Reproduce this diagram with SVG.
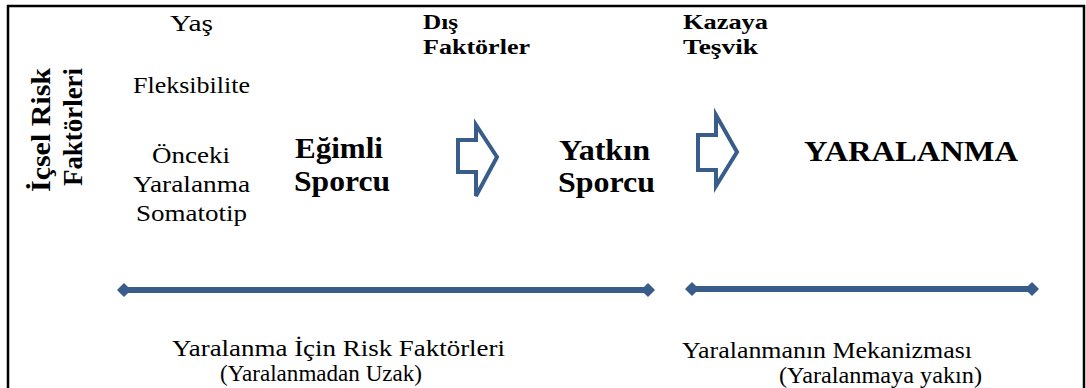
<svg xmlns="http://www.w3.org/2000/svg" width="1086" height="388" viewBox="0 0 1086 388">
<style>
text{font-family:"Liberation Serif","Times New Roman",serif;fill:#000}
.r{font-size:24px}
.q{font-size:23px}
.b{font-weight:bold}
.s{font-size:22px}
.l{font-size:29px}
.v{font-size:27px}
.blk{fill:#fff;stroke:#385D8A;stroke-width:4;stroke-linejoin:miter}
.dl{stroke:#385D8A;stroke-width:6;fill:none}
</style>
<defs>
<marker id="dia" viewBox="-7 -7 14 14" markerWidth="14" markerHeight="14" refX="0" refY="0" markerUnits="userSpaceOnUse" orient="auto">
<path d="M-6,0 L0,-6 L6,0 L0,6 Z" fill="#385D8A" stroke="#385D8A" stroke-width="1.5" stroke-linejoin="round"/>
</marker>
</defs>
<rect width="1086" height="388" fill="#fff"/>
<path d="M8,388 V6 H1084 V388" fill="none" stroke="#000" stroke-width="2.5"/>

<g id="icsel">
<text class="b v" transform="translate(50,192) rotate(-90)" textLength="124" lengthAdjust="spacingAndGlyphs">İçsel Risk</text>
<text class="b v" transform="translate(82,186) rotate(-90)" textLength="118" lengthAdjust="spacingAndGlyphs">Faktörleri</text>
</g>
<g id="factors">
<text class="r" x="170" y="31" textLength="43" lengthAdjust="spacingAndGlyphs">Yaş</text>
<text class="r" x="133" y="93" textLength="117" lengthAdjust="spacingAndGlyphs">Fleksibilite</text>
<text class="r" x="152" y="163" textLength="78" lengthAdjust="spacingAndGlyphs">Önceki</text>
<text class="r" x="133" y="192" textLength="117" lengthAdjust="spacingAndGlyphs">Yaralanma</text>
<text class="r" x="136" y="221" textLength="111" lengthAdjust="spacingAndGlyphs">Somatotip</text>
</g>
<g id="egimli">
<text class="b l" x="295" y="158" textLength="88" lengthAdjust="spacingAndGlyphs">Eğimli</text>
<text class="b l" x="294" y="191" textLength="96" lengthAdjust="spacingAndGlyphs">Sporcu</text>
</g>
<g id="dis">
<text class="b s" x="423" y="29" textLength="35" lengthAdjust="spacingAndGlyphs">Dış</text>
<text class="b s" x="423" y="54" textLength="107" lengthAdjust="spacingAndGlyphs">Faktörler</text>
</g>
<g id="yatkin">
<text class="b l" x="559" y="160" textLength="91" lengthAdjust="spacingAndGlyphs">Yatkın</text>
<text class="b l" x="558" y="192" textLength="97" lengthAdjust="spacingAndGlyphs">Sporcu</text>
</g>
<g id="kazaya">
<text class="b s" x="683" y="29" textLength="85" lengthAdjust="spacingAndGlyphs">Kazaya</text>
<text class="b s" x="683" y="54" textLength="75" lengthAdjust="spacingAndGlyphs">Teşvik</text>
</g>
<g id="yaralanma">
<text class="b l" x="804" y="161" textLength="214" lengthAdjust="spacingAndGlyphs">YARALANMA</text>
</g>
<g id="risk-label">
<text class="q" x="172" y="356" textLength="333" lengthAdjust="spacingAndGlyphs">Yaralanma İçin Risk Faktörleri</text>
<text class="q" x="220" y="381" textLength="202" lengthAdjust="spacingAndGlyphs">(Yaralanmadan Uzak)</text>
</g>
<g id="mech-label">
<text class="q" x="682" y="358" textLength="290" lengthAdjust="spacingAndGlyphs">Yaralanmanın Mekanizması</text>
<text class="q" x="779" y="383" textLength="203" lengthAdjust="spacingAndGlyphs">(Yaralanmaya yakın)</text>
</g>

<g id="connectors">
<path class="blk" d="M458,140 H476 V125 L497,157 L476,196 V172 H458 Z"/>
<path class="blk" d="M698,135 H716 V115 L737,152 L716,186 V170 H698 Z"/>
<line class="dl" x1="124" y1="290" x2="648" y2="290" marker-start="url(#dia)" marker-end="url(#dia)"/>
<line class="dl" x1="692" y1="289" x2="1032" y2="289" marker-start="url(#dia)" marker-end="url(#dia)"/>
</g>
</svg>
